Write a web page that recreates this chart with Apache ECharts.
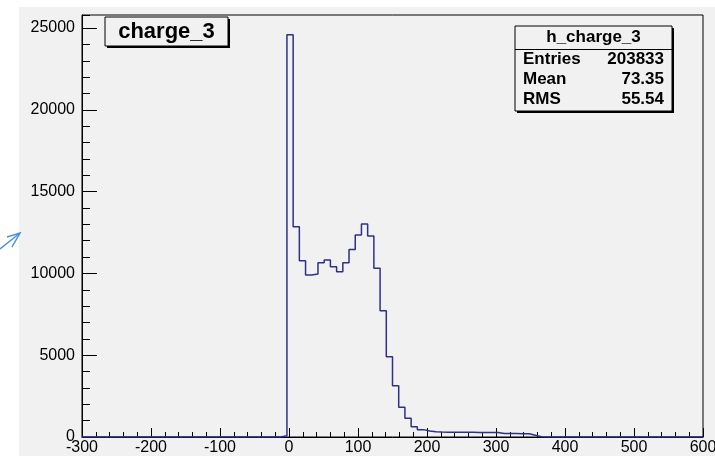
<!DOCTYPE html>
<html>
<head>
<meta charset="utf-8">
<script src="https://cdn.jsdelivr.net/npm/echarts@6/dist/echarts.min.js"></script>
<style>
  html, body { margin: 0; padding: 0; background: #fff; }
  #chart { width: 715px; height: 456px; }
</style>
</head>
<body>
<div id="chart"></div>
<script>
// histogram h_charge_3 : 100 bins of width 9 from -300 to 600
var binLow = -300;
var binWidth = 9;
var counts = [
  0, 0, 0, 0, 0, 0, 0, 0, 0, 0,
  0, 0, 0, 0, 0, 0, 0, 0, 0, 0,
  0, 0, 0, 0, 0, 0, 0, 0, 0, 0,
  0, 0, 80, 24600, 12850, 10780, 9900, 9960, 10650, 10820,
  10410, 10100, 10650, 11470, 12350, 13020, 12290, 10310, 7720, 4910,
  3140, 1820, 1140, 620, 450, 370, 320, 300, 295, 290,
  290, 285, 285, 280, 280, 275, 270, 220, 215, 210,
  205, 200, 110, 20, 0, 0, 0, 0, 0, 0,
  0, 0, 0, 0, 0, 0, 0, 0, 0, 0,
  0, 0, 0, 0, 0, 0, 0, 0, 0, 0
];
var xRange = [-300, 600];
var yRange = [0, 25800];
var histTitle = 'charge_3';
var statsName = 'h_charge_3';
var statsRows = [['Entries', '203833'], ['Mean', '73.35'], ['RMS', '55.54']];

var histData = counts.map(function (c, i) { return [binLow + i * binWidth, c]; });
histData.push([binLow + counts.length * binWidth, counts[counts.length - 1]]);

var myChart = echarts.init(document.getElementById('chart'));
var font = 'Liberation Sans, Arial, sans-serif';
var grey = '#f1f1f1';

var graphics = [
  // canvas background
  { type: 'rect', z: -100, shape: { x: 19, y: 7, width: 700, height: 452 }, style: { fill: grey } },
  // title box with shadow
  { type: 'rect', z: 100, shape: { x: 107, y: 19, width: 123, height: 29 }, style: { fill: '#000' } },
  { type: 'rect', z: 101, shape: { x: 105, y: 17, width: 123, height: 29 }, style: { fill: grey, stroke: '#000', lineWidth: 1 } },
  { type: 'text', z: 102, x: 166.5, y: 31.5, style: { text: histTitle, font: 'bold 22px ' + font, fill: '#000', align: 'center', verticalAlign: 'middle' } },
  // stats box with shadow
  { type: 'rect', z: 100, shape: { x: 517, y: 28, width: 157, height: 85 }, style: { fill: '#000' } },
  { type: 'rect', z: 101, shape: { x: 515, y: 26, width: 157, height: 85 }, style: { fill: grey, stroke: '#000', lineWidth: 1 } },
  { type: 'line', z: 102, shape: { x1: 515, y1: 49.5, x2: 672, y2: 49.5 }, style: { stroke: '#000', lineWidth: 1 } },
  { type: 'text', z: 102, x: 593.5, y: 37, style: { text: statsName, font: 'bold 17px ' + font, fill: '#000', align: 'center', verticalAlign: 'middle' } },
  // blue arrow mark at the left edge
  { type: 'polyline', z: 50, shape: { points: [[0, 249], [20, 233]] }, style: { stroke: '#4a8fdc', lineWidth: 1.5, fill: null } },
  { type: 'polyline', z: 50, shape: { points: [[7, 237], [20, 233], [12, 247]] }, style: { stroke: '#4a8fdc', lineWidth: 1.5, fill: null } }
];
// stats box rows
statsRows.forEach(function (r, i) {
  graphics.push({ type: 'text', z: 102, x: 523, y: 59 + i * 20,
    style: { text: r[0], font: 'bold 17px ' + font, fill: '#000', verticalAlign: 'middle' } });
  graphics.push({ type: 'text', z: 102, x: 664, y: 59 + i * 20,
    style: { text: r[1], font: 'bold 17px ' + font, fill: '#000', align: 'right', verticalAlign: 'middle' } });
});

var option = {
  animation: false,
  grid: {
    show: true,
    left: 82, right: 12, top: 15, bottom: 19,
    outerBoundsMode: 'none',
    containLabel: false,
    borderColor: '#000', borderWidth: 1,
    backgroundColor: 'transparent'
  },
  xAxis: {
    type: 'value',
    min: xRange[0], max: xRange[1], interval: 100,
    axisLine: { show: true, onZero: false, lineStyle: { color: '#000', width: 1 } },
    axisTick: { show: true, inside: true, length: 9, lineStyle: { color: '#000' } },
    minorTick: { show: true, splitNumber: 5, length: 5, lineStyle: { color: '#000' } },
    axisLabel: { color: '#000', fontSize: 16, fontFamily: font, margin: 3 },
    splitLine: { show: false }
  },
  yAxis: [
    {
      type: 'value',
      min: yRange[0], max: yRange[1], interval: 5000,
      axisLine: { show: true, onZero: false, lineStyle: { color: '#000', width: 1 } },
      axisTick: { show: true, inside: true, length: 15, lineStyle: { color: '#000' } },
      axisLabel: { color: '#000', fontSize: 16, fontFamily: font, margin: 7, showMaxLabel: false,
        formatter: function (v) { return String(v); } },
      splitLine: { show: false }
    },
    {
      // minor ticks every 1000
      type: 'value', position: 'left', offset: 0,
      min: yRange[0], max: yRange[1], interval: 1000,
      axisLine: { show: false, onZero: false },
      axisTick: { show: true, inside: true, length: 8, lineStyle: { color: '#000' } },
      axisLabel: { show: false },
      splitLine: { show: false }
    }
  ],
  series: [{
    type: 'line',
    step: 'end',
    data: histData,
    showSymbol: false,
    z: 5,
    lineStyle: { color: '#2f2f88', width: 1.5 }
  }],
  graphic: graphics
};
myChart.setOption(option);
</script>
</body>
</html>
